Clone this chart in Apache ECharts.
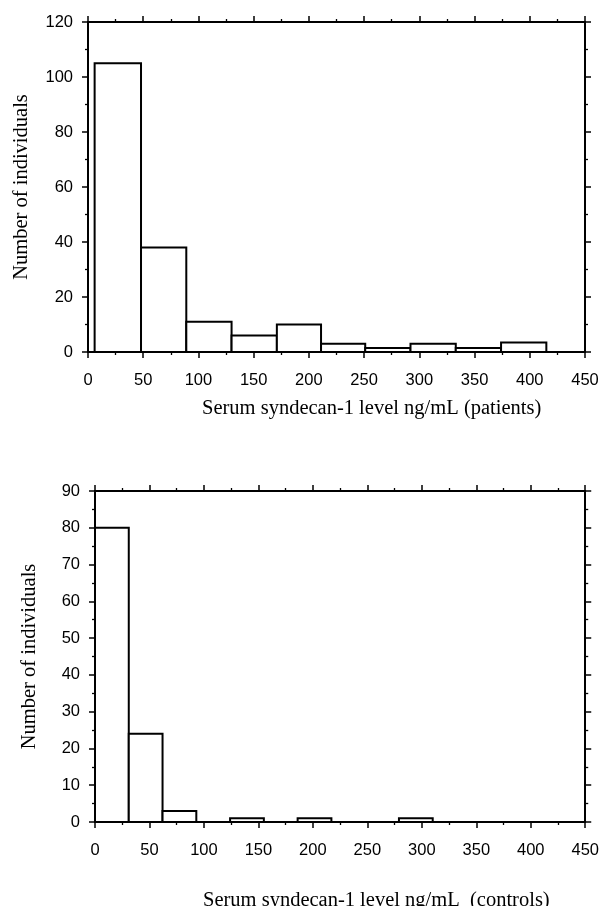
<!DOCTYPE html>
<html lang="en">
<head>
    <meta charset="UTF-8">
    <title>Serum syndecan-1 histograms</title>
    <script src="https://cdn.jsdelivr.net/npm/echarts@6/dist/echarts.min.js"></script>
    <style>
        * { margin: 0; padding: 0 }
        html, body { width: 100%; height: 100%; background: #fff; }
        #chart { width: 602px; height: 906px; }
    </style>
</head>
<body>
<div id="chart"></div>
<script>
    // patients: bin edges (ng/mL) and counts
    const patientEdges = [6, 48, 89, 130, 171, 211, 251, 292, 333, 374, 415];
    const patientCounts = [105, 38, 11, 6, 10, 3, 1.5, 3, 1.5, 3.5];

    // controls
    const controlEdges = [0, 31, 62, 93, 124, 155, 186, 217, 248, 279, 310];
    const controlCounts = [80, 24, 3, 0, 1, 0, 1, 0, 0, 1];

    const xTitles = ['Serum syndecan-1 level ng/mL (patients)', 'Serum syndecan-1 level ng/mL  (controls)'];
    const yTitle = 'Number of individuals';

    function binData(edges, counts) {
        let out = [];
        for (let i = 0; i < counts.length; i++) {
            if (counts[i] > 0) out.push([edges[i], edges[i + 1], counts[i]]);
        }
        return out;
    }

    function renderBin(params, api) {
        var p0 = api.coord([api.value(0), api.value(2)]);
        var p1 = api.coord([api.value(1), 0]);
        return {
            type: 'rect',
            shape: {x: p0[0], y: p0[1], width: p1[0] - p0[0], height: p1[1] - p0[1]},
            style: {fill: '#fff', stroke: '#000', lineWidth: 2}
        };
    }

    var labelFont = {color: '#000', fontFamily: 'Liberation Sans, Arial', fontSize: 16.5};
    var titleFont = {color: '#000', fontFamily: 'Liberation Serif, Times New Roman', fontSize: 20.5, fontWeight: 'normal'};
    var line = {show: true, onZero: false, lineStyle: {color: '#000', width: 2}};
    var tick = {show: true, inside: false, length: 6, lineStyle: {color: '#000', width: 1.5}};
    var minor = {show: true, splitNumber: 2, length: 3, lineStyle: {color: '#000', width: 1.3}};

    function xAxes(gridIndex) {
        return [
            {
                gridIndex: gridIndex, type: 'value', min: 0, max: 450, interval: 50,
                axisLine: line, axisTick: tick, minorTick: minor, splitLine: {show: false},
                axisLabel: Object.assign({margin: 20, showMaxLabel: true}, labelFont)
            },
            {
                gridIndex: gridIndex, type: 'value', position: 'top', min: 0, max: 450, interval: 50,
                axisLine: line, axisTick: tick, minorTick: minor, splitLine: {show: false},
                axisLabel: {show: false}
            }
        ];
    }

    function yAxes(gridIndex, max, interval, gap) {
        return [
            {
                gridIndex: gridIndex, type: 'value', min: 0, max: max, interval: interval,
                axisLine: line, axisTick: tick, minorTick: minor, splitLine: {show: false},
                axisLabel: Object.assign({margin: 15}, labelFont),
                name: yTitle, nameLocation: 'middle', nameGap: gap,
                nameTextStyle: titleFont
            },
            {
                gridIndex: gridIndex, type: 'value', position: 'right', min: 0, max: max, interval: interval,
                axisLine: line, axisTick: tick, minorTick: minor, splitLine: {show: false},
                axisLabel: {show: false}
            }
        ];
    }

    var myChart = echarts.init(document.getElementById('chart'));

    var option = {
        animation: false,
        backgroundColor: '#fff',
        title: [
            {text: xTitles[0], left: 197, top: 393, textStyle: titleFont},
            {text: xTitles[1], left: 198, top: 885, textStyle: titleFont}
        ],
        grid: [
            {left: 88, right: 17, top: 22, height: 330},
            {left: 95, right: 9, top: 491, height: 331}
        ],
        xAxis: xAxes(0).concat(xAxes(1)),
        yAxis: yAxes(0, 120, 20, 56).concat(yAxes(1, 90, 10, 55)),
        series: [
            {
                type: 'custom', xAxisIndex: 0, yAxisIndex: 0,
                renderItem: renderBin, data: binData(patientEdges, patientCounts)
            },
            {
                type: 'custom', xAxisIndex: 2, yAxisIndex: 2,
                renderItem: renderBin, data: binData(controlEdges, controlCounts)
            }
        ]
    };

    myChart.setOption(option);
</script>
</body>
</html>
